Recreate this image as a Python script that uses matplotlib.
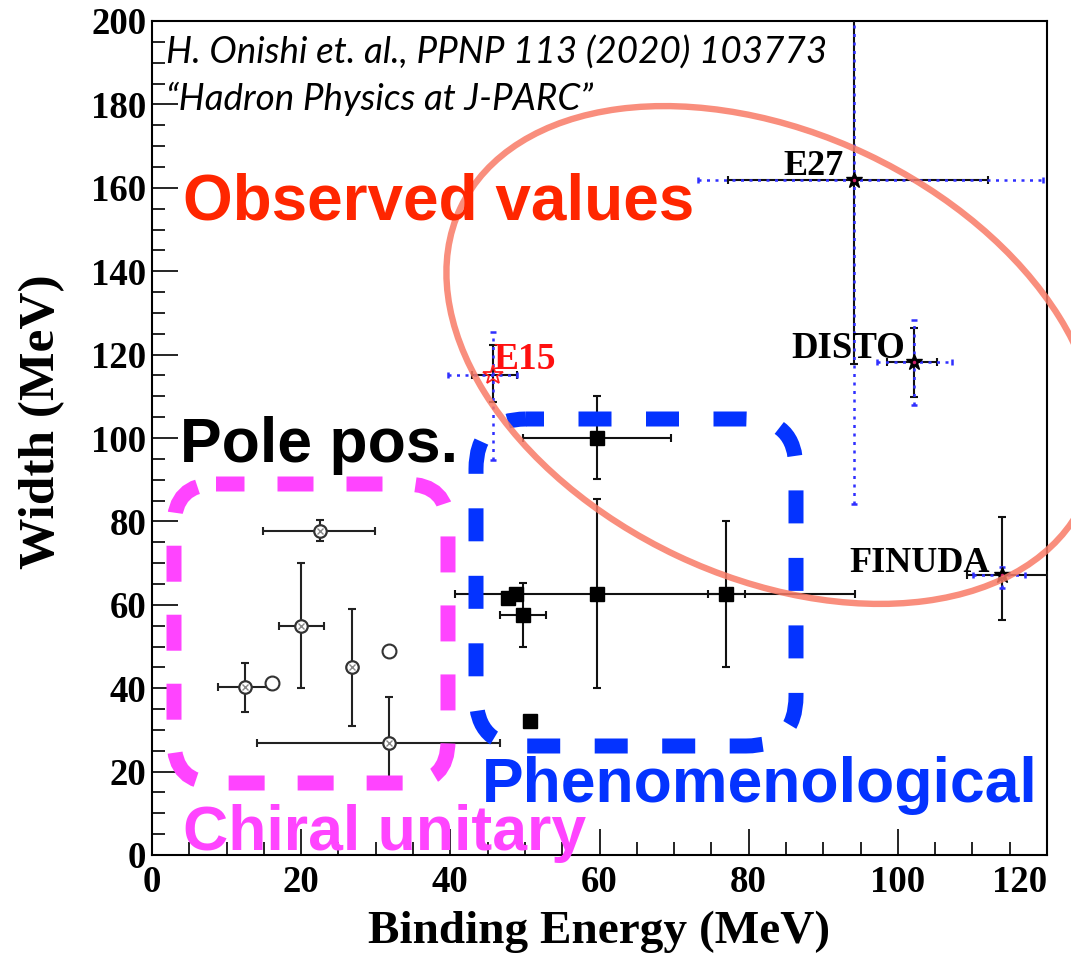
import matplotlib
matplotlib.use('Agg')
import matplotlib.pyplot as plt
from matplotlib.patches import Ellipse, FancyBboxPatch
from matplotlib.ticker import MultipleLocator

# ---------------- data ----------------
# Chiral unitary predictions (crossed open circles)
chiral_x = [12.5, 22.5, 20.0, 26.8, 31.8]
chiral_y = [40.3, 77.7, 55.0, 45.1, 26.9]
chiral_xlo = [3.6, 7.6, 3.0, 0.0, 17.7]
chiral_xhi = [3.3, 7.4, 3.1, 0.0, 14.9]
chiral_ylo = [6.0, 2.5, 15.0, 14.2, 10.8]
chiral_yhi = [5.7, 2.6, 15.1, 13.9, 11.0]
# Chiral unitary, no error (open circles)
chiral_open_x = [16.1, 31.8]
chiral_open_y = [41.2, 48.9]

# Phenomenological predictions (filled squares)
pheno_x = [47.7, 48.8, 49.7, 50.7, 59.7, 59.7, 77.0]
pheno_y = [61.6, 62.6, 57.6, 32.1, 100.0, 62.6, 62.6]
pheno_xlo = [0.0, 0.0, 3.0, 0.0, 10.0, 19.1, 2.4]
pheno_xhi = [0.0, 0.0, 3.1, 0.0, 9.9, 34.6, 2.5]
pheno_ylo = [0.0, 0.0, 7.7, 0.0, 9.8, 22.6, 17.5]
pheno_yhi = [0.0, 0.0, 7.6, 0.0, 10.0, 22.8, 17.5]

# Observed values (stat = black bars, syst = blue dotted bars)
obs_labels = ['E15', 'E27', 'DISTO', 'FINUDA']
obs_x = [45.7, 94.1, 102.2, 114.0]
obs_y = [115.1, 161.9, 118.2, 67.1]
obs_stat_xlo = [2.8, 16.9, 3.6, 4.7]
obs_stat_xhi = [3.2, 18.0, 3.1, 6.1]
obs_stat_ylo = [6.5, 44.2, 8.4, 10.7]
obs_stat_yhi = [7.2, 87.0, 8.2, 14.0]
obs_sys_xlo = [6.0, 20.9, 5.0, 3.9]
obs_sys_xhi = [3.2, 25.4, 5.1, 3.0]
obs_sys_ylo = [20.4, 77.7, 10.3, 3.0]
obs_sys_yhi = [10.3, 66.0, 10.1, 2.0]

x_ticks = [0, 20, 40, 60, 80, 100, 120]
y_ticks = [0, 20, 40, 60, 80, 100, 120, 140, 160, 180, 200]

# ---------------- figure ----------------
W, H = 1071, 957
fig = plt.figure(figsize=(W / 100, H / 100), dpi=100)
fig.patch.set_facecolor('white')
ax = fig.add_axes([152 / W, 1 - 855 / H, (1047 - 152) / W, (855 - 21) / H])
ax.set_xlim(0, 120)
ax.set_ylim(0, 200)

serif = ['Liberation Serif', 'DejaVu Serif']
sans = ['Liberation Sans', 'DejaVu Sans']

ax.set_xticks(x_ticks)
ax.set_yticks(y_ticks)
ax.xaxis.set_minor_locator(MultipleLocator(5))
ax.yaxis.set_minor_locator(MultipleLocator(5))
ax.tick_params(which='both', direction='in', top=False, right=False, width=1.2, color='black')
ax.tick_params(which='major', length=18.5)
ax.tick_params(which='minor', length=9.5)
ax.tick_params(axis='x', pad=7)
ax.tick_params(axis='y', pad=4)
for lab in ax.get_xticklabels() + ax.get_yticklabels():
    lab.set_fontfamily(serif)
    lab.set_fontweight('bold')
    lab.set_fontsize(26.5)
ax.get_xticklabels()[-1].set_horizontalalignment('right')
for sp in ax.spines.values():
    sp.set_linewidth(1.5)

ax.set_xlabel('Binding Energy (MeV)', fontfamily=serif, fontweight='bold', fontsize=34, labelpad=8)
ax.set_ylabel('Width (MeV)', fontfamily=serif, fontweight='bold', fontsize=37, labelpad=18)
ax.yaxis.set_label_coords(-0.097, 0.52)


def draw_err(xs, ys, xlo, xhi, ylo, yhi, color='black', dotted=False, lw=1.5, cap=3, z=3):
    conts = []
    for i in range(len(xs)):
        if xlo[i] or xhi[i]:
            conts.append(ax.errorbar([xs[i]], [ys[i]], xerr=[[xlo[i]], [xhi[i]]], fmt='none',
                                     ecolor=color, elinewidth=lw, capsize=cap, capthick=lw, zorder=z))
        if ylo[i] or yhi[i]:
            conts.append(ax.errorbar([xs[i]], [ys[i]], yerr=[[ylo[i]], [yhi[i]]], fmt='none',
                                     ecolor=color, elinewidth=lw, capsize=cap, capthick=lw, zorder=z))
    if dotted:
        for c in conts:
            for lc in c.lines[2]:
                lc.set_linestyle((0, (1.2, 2.2)))
    return conts


# chiral unitary
draw_err(chiral_x, chiral_y, chiral_xlo, chiral_xhi, chiral_ylo, chiral_yhi, color='#222222')
ax.plot(chiral_x, chiral_y, 'o', ms=9, mfc='white', mec='#333333', mew=1.6, zorder=5, ls='none')
ax.plot(chiral_x, chiral_y, 'x', ms=5, mec='#888888', mew=1.0, zorder=6, ls='none')
ax.plot(chiral_open_x, chiral_open_y, 'o', ms=10, mfc='white', mec='#333333', mew=1.5, zorder=5, ls='none')

# phenomenological
draw_err(pheno_x, pheno_y, pheno_xlo, pheno_xhi, pheno_ylo, pheno_yhi, color='#111111')
ax.plot(pheno_x, pheno_y, 's', ms=9.5, mfc='black', mec='black', zorder=5, ls='none')

# observed
draw_err(obs_x, obs_y, obs_stat_xlo, obs_stat_xhi, obs_stat_ylo, obs_stat_yhi, color='#111111')
draw_err(obs_x, obs_y, obs_sys_xlo, obs_sys_xhi, obs_sys_ylo, obs_sys_yhi, color='#2f2fff',
         dotted=True, lw=1.8, cap=2.5, z=4)
ax.plot(obs_x[1:], obs_y[1:], '*', ms=12, mfc='black', mec='black', zorder=6, ls='none')
ax.plot(obs_x[1:], obs_y[1:], 'o', ms=2.5, mfc='#d0206a', mec='none', zorder=7, ls='none')
ax.plot(obs_x[:1], obs_y[:1], '*', ms=15, mfc='none', mec='#ff2020', mew=1.3, zorder=7, ls='none')

# point labels
ax.text(45.8, 116.5, obs_labels[0], color='#ff1010', fontfamily=serif, fontweight='bold',
        fontsize=27, ha='left', va='baseline', zorder=8)
ax.text(92.7, 163.0, obs_labels[1], color='black', fontfamily=serif, fontweight='bold',
        fontsize=26, ha='right', va='baseline', zorder=8)
ax.text(101.0, 119.2, obs_labels[2], color='black', fontfamily=serif, fontweight='bold',
        fontsize=26.5, ha='right', va='baseline', zorder=8)
ax.text(112.4, 67.9, obs_labels[3], color='black', fontfamily=serif, fontweight='bold',
        fontsize=26, ha='right', va='baseline', zorder=8)

# ---------------- annotation overlay (pixel coordinates) ----------------
ov = fig.add_axes([0, 0, 1, 1], zorder=10)
ov.set_xlim(0, W)
ov.set_ylim(H, 0)
ov.axis('off')
ov.patch.set_alpha(0)

mag = FancyBboxPatch((174, 484), 448 - 174, 783 - 484, boxstyle='round,pad=0,rounding_size=42',
                     fill=False, edgecolor='#ff44ff', linewidth=10.8, linestyle=(0.5, (2.4, 2.2)))
mag.set_capstyle('butt')
ov.add_patch(mag)
blu = FancyBboxPatch((476, 419), 796 - 476, 746 - 419, boxstyle='round,pad=0,rounding_size=50',
                     fill=False, edgecolor='#0433ff', linewidth=10.8, linestyle=(1.0, (2.2, 2.3)))
blu.set_capstyle('butt')
ov.add_patch(blu)

ell = Ellipse((772, 355), 689, 444, angle=25.3, fill=False, edgecolor='#f87a66',
              linewidth=4.6, alpha=0.85)
ov.add_patch(ell)

cite_font = ['Lato', 'DejaVu Sans']
ov.text(166, 64, 'H. Onishi et. al., PPNP 113 (2020) 103773', fontfamily=cite_font, style='italic',
        fontsize=26.5, color='black', ha='left', va='baseline')
ov.text(166, 110, '\u201cHadron Physics at J-PARC\u201d', fontfamily=cite_font, style='italic',
        fontsize=26.5, color='black', ha='left', va='baseline')

ov.text(183, 219, 'Observed values', fontfamily=sans, fontweight='bold', fontsize=46,
        color='#ff2600', ha='left', va='baseline')
ov.text(180, 462, 'Pole pos.', fontfamily=sans, fontweight='bold', fontsize=45,
        color='black', ha='left', va='baseline')
ov.text(482, 802, 'Phenomenological', fontfamily=sans, fontweight='bold', fontsize=45,
        color='#0433ff', ha='left', va='baseline')
ov.text(183, 850, 'Chiral unitary', fontfamily=sans, fontweight='bold', fontsize=45,
        color='#ff44ff', ha='left', va='baseline')

fig.savefig('out.png', dpi=100)
